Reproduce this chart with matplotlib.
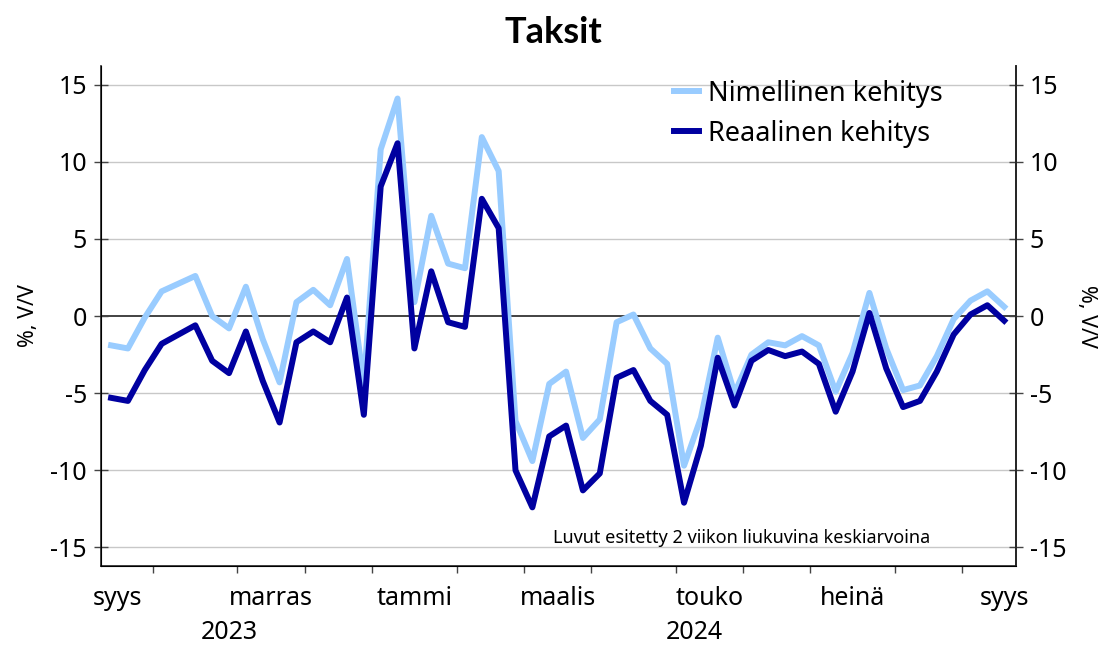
import matplotlib
matplotlib.use("Agg")
import matplotlib.pyplot as plt

plt.rcParams['font.family'] = ['Noto Sans', 'DejaVu Sans']

# viikoittaiset arvot, syys 2023 - syys 2024 (2 viikon liukuva ka)
nimellinen = [-1.9, -2.1, -0.1, 1.6, 2.1, 2.6, 0.0, -0.8, 1.9, -1.5,
              -4.3, 0.9, 1.7, 0.7, 3.7, -4.4, 10.8, 14.1, 0.9, 6.5,
              3.4, 3.1, 11.6, 9.4, -6.8, -9.4, -4.4, -3.6, -7.9, -6.7,
              -0.4, 0.1, -2.1, -3.1, -9.7, -6.6, -1.4, -5.0, -2.5, -1.7,
              -1.9, -1.3, -1.9, -4.9, -2.4, 1.5, -2.1, -4.8, -4.5, -2.6,
              -0.2, 1.0, 1.6, 0.6]
reaalinen = [-5.3, -5.5, -3.5, -1.8, -1.2, -0.6, -2.9, -3.7, -1.0, -4.2,
             -6.9, -1.7, -1.0, -1.7, 1.2, -6.4, 8.4, 11.2, -2.1, 2.9,
             -0.4, -0.7, 7.6, 5.7, -10.0, -12.4, -7.8, -7.1, -11.3, -10.2,
             -4.0, -3.5, -5.5, -6.4, -12.1, -8.4, -2.7, -5.8, -2.9, -2.2,
             -2.6, -2.3, -3.1, -6.2, -3.6, 0.2, -3.4, -5.9, -5.5, -3.6,
             -1.2, 0.1, 0.7, -0.3]

# kuukauden vaihteet (viikkoindeksi) ja kuukausinimet
month_ticks = [2.5, 7.5, 11.5, 15.5, 20.5, 24.5, 28.5, 33.5, 37.5, 41.5, 46.5, 50.5]
month_labels = ['syys', 'marras', 'tammi', 'maalis', 'touko', 'heinä', 'syys']
month_label_pos = [0.4, 9.5, 18.0, 26.5, 35.5, 44.0, 53.0]
year_labels = ['2023', '2024']
year_label_pos = [7.0, 34.6]
y_ticks = [-15, -10, -5, 0, 5, 10, 15]

x = list(range(len(nimellinen)))

fig = plt.figure(figsize=(11.07, 6.45), dpi=100)
ax = fig.add_axes([0.0912, 0.1225, 0.8266, 0.775])

for yv in y_ticks:
    if yv != 0:
        ax.axhline(yv, color='#c8c8c8', lw=1.0, zorder=0)
ax.axhline(0, color='#222222', lw=1.2, zorder=1)

ax.plot(x, nimellinen, color='#99ccff', lw=4.3, label='Nimellinen kehitys', zorder=2)
ax.plot(x, reaalinen, color='#0000a0', lw=4.3, label='Reaalinen kehitys', zorder=3)

ax.set_xlim(-0.6, 53.7)
ax.set_ylim(-16.2, 16.2)
ax.set_yticks(y_ticks)
ax.set_yticklabels([str(v) for v in y_ticks], fontsize=18)
ax.tick_params(axis='y', direction='inout', length=10, width=1, color='#444444', pad=5)

ax.set_xticks(month_ticks)
ax.set_xticklabels([])
ax.tick_params(axis='x', direction='out', length=5, width=1, color='#444444')
ax.set_xticks([15.5], minor=True)
ax.tick_params(axis='x', which='minor', length=14, width=1, color='#444444')

for pos, lab in zip(month_label_pos, month_labels):
    ax.text(pos, -0.066, lab, transform=ax.get_xaxis_transform(),
            ha='center', va='center', fontsize=18)
for pos, lab in zip(year_label_pos, year_labels):
    ax.text(pos, -0.134, lab, transform=ax.get_xaxis_transform(),
            ha='center', va='center', fontsize=18)

ax.spines['top'].set_visible(False)
for s in ['left', 'right', 'bottom']:
    ax.spines[s].set_color('#222222')
    ax.spines[s].set_linewidth(1.2)

ax.set_ylabel('%, V/V', fontsize=15.5, labelpad=8)

ax2 = ax.twinx()
ax2.set_ylim(ax.get_ylim())
ax2.set_yticks(y_ticks)
ax2.set_yticklabels([str(v) for v in y_ticks], fontsize=18)
ax2.tick_params(axis='y', direction='inout', length=10, width=1, color='#444444', pad=5)
ax2.spines['top'].set_visible(False)
ax2.spines['right'].set_color('#222222')
ax2.spines['right'].set_linewidth(1.2)
ax2.set_ylabel('%, V/V', fontsize=15.5, rotation=270, labelpad=22)

ax.legend(loc='upper right', bbox_to_anchor=(0.935, 1.0), frameon=False, fontsize=19.5,
          handlelength=0.9, handletextpad=0.35, labelspacing=0.45, borderaxespad=0.1)

ax.text(0.906, 0.056, 'Luvut esitetty 2 viikon liukuvina keskiarvoina',
        transform=ax.transAxes, ha='right', va='center', fontsize=13)

fig.suptitle('Taksit', fontsize=26, fontweight='bold', family=['Lato', 'DejaVu Sans'], y=0.975)

fig.savefig('out.png', dpi=100)
